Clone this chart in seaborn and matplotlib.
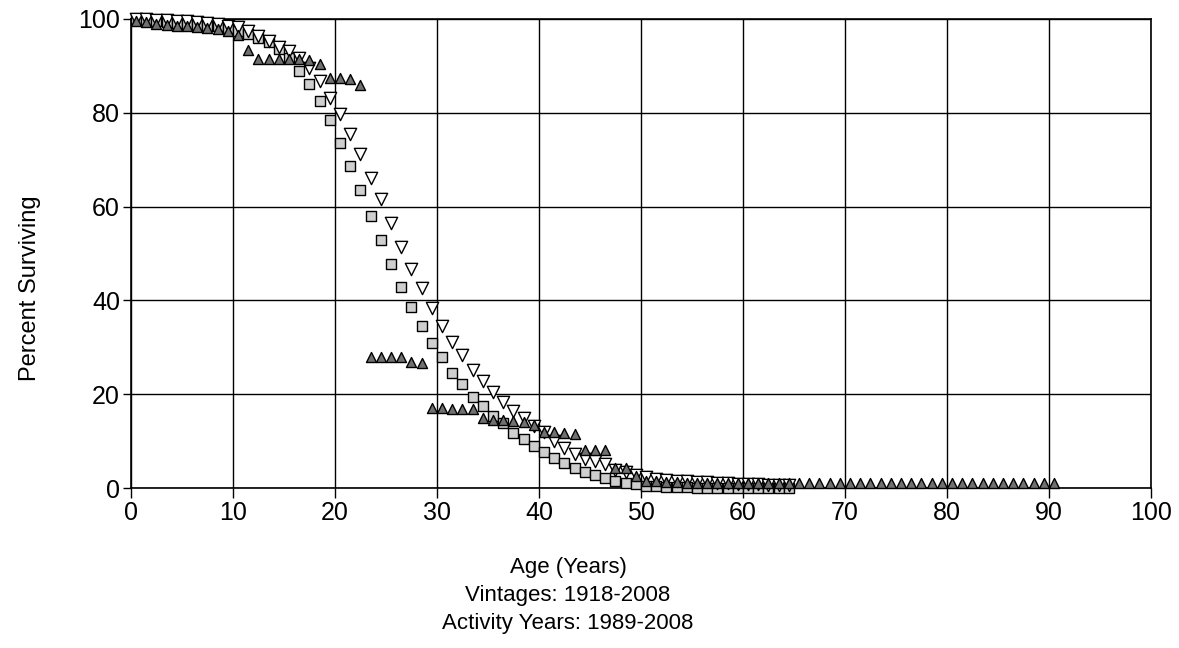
import numpy as np
import pandas as pd
import matplotlib
matplotlib.use("Agg")
import matplotlib.pyplot as plt
import seaborn as sns

# Percent surviving by age (age-interval midpoints), three survival curves
ages_sq = np.arange(0, 65) + 0.5
surv_sq = [100.0, 99.8, 99.6, 99.4, 99.2, 99.0, 98.8, 98.6, 98.4, 98.0,
           97.4, 96.8, 96.0, 95.0, 93.5, 91.7, 89.0, 86.2, 82.6, 78.5,
           73.6, 68.7, 63.6, 58.0, 52.8, 47.7, 42.8, 38.5, 34.5, 31.0,
           27.9, 24.5, 22.1, 19.4, 17.4, 15.3, 13.8, 11.7, 10.4, 8.9,
           7.7, 6.5, 5.3, 4.3, 3.4, 2.8, 2.1, 1.5, 1.1, 0.8,
           0.5, 0.4, 0.3, 0.2, 0.2, 0.1, 0.1, 0.1, 0.0, 0.0,
           0.0, 0.0, 0.0, 0.0, 0.0]

ages_dn = np.arange(0, 65) + 0.5
surv_dn = [100.0, 99.9, 99.8, 99.7, 99.6, 99.5, 99.4, 99.2, 99.0, 98.6,
           98.2, 97.4, 96.4, 95.3, 94.0, 93.2, 91.7, 89.6, 86.8, 83.2,
           79.8, 75.5, 71.3, 66.2, 61.6, 56.4, 51.3, 46.8, 42.6, 38.3,
           34.5, 31.1, 28.3, 25.1, 22.8, 20.5, 18.3, 16.5, 14.9, 13.3,
           12.0, 10.0, 8.6, 7.3, 6.2, 5.8, 5.1, 3.9, 3.5, 2.8,
           2.4, 2.0, 1.8, 1.6, 1.5, 1.3, 1.2, 1.1, 1.0, 0.9,
           0.8, 0.8, 0.7, 0.7, 0.6]

ages_up = np.arange(0, 91) + 0.5
surv_up = [99.5, 99.3, 99.0, 98.8, 98.6, 98.4, 98.2, 98.0, 97.8, 97.4,
           96.5, 93.3, 91.5, 91.5, 91.5, 91.5, 91.5, 91.2, 90.5, 87.5,
           87.5, 87.2, 86.0, 28.0, 28.0, 28.0, 28.0, 26.8, 26.6, 17.1,
           17.1, 16.9, 16.8, 16.8, 15.0, 14.6, 14.5, 14.3, 14.0, 13.4,
           12.0, 11.9, 11.8, 11.5, 8.0, 8.0, 8.0, 4.3, 4.2, 2.5,
           1.6, 1.4, 1.3, 1.2, 1.1, 1.0, 1.0, 1.0, 1.0, 1.0,
           1.0, 1.0, 1.0, 1.0, 1.0, 1.0, 1.0, 1.0, 1.0, 1.0,
           1.0, 1.0, 1.0, 1.0, 1.0, 1.0, 1.0, 1.0, 1.0, 1.0,
           1.0, 1.0, 1.0, 1.0, 1.0, 1.0, 1.0, 1.0, 1.0, 1.0,
           1.0]

x_ticks = list(range(0, 101, 10))
y_ticks = list(range(0, 101, 20))
x_title = "Age (Years)"
sub_1 = "Vintages: 1918-2008"
sub_2 = "Activity Years: 1989-2008"
y_title = "Percent Surviving"

sns.set_style("white")
plt.rcParams["font.family"] = ["Liberation Sans", "DejaVu Sans"]
plt.rcParams["text.color"] = "black"

fig = plt.figure(figsize=(11.79, 6.48), dpi=100)
ax = fig.add_axes([0.1111, 0.2469, 0.8651, 0.7238])

df_sq = pd.DataFrame({"age": ages_sq, "pct": surv_sq})
df_dn = pd.DataFrame({"age": ages_dn, "pct": surv_dn})
df_up = pd.DataFrame({"age": ages_up, "pct": surv_up})

sns.scatterplot(data=df_sq, x="age", y="pct", ax=ax, marker="s", s=62,
                color="#cfcfcf", edgecolor="black", linewidth=1.0,
                clip_on=False, zorder=3)
sns.scatterplot(data=df_dn, x="age", y="pct", ax=ax, marker="v", s=78,
                color="white", edgecolor="black", linewidth=1.0,
                clip_on=False, zorder=4)
sns.scatterplot(data=df_up, x="age", y="pct", ax=ax, marker="^", s=52,
                color="#707070", edgecolor="black", linewidth=1.0,
                clip_on=False, zorder=5)

ax.set_xlim(0, 100)
ax.set_ylim(0, 100)
ax.set_xticks(x_ticks)
ax.set_yticks(y_ticks)
ax.set_xticklabels([str(t) for t in x_ticks])
ax.set_yticklabels([str(t) for t in y_ticks])
ax.grid(True, color="black", linewidth=1.0)
ax.set_axisbelow(True)
for sp in ax.spines.values():
    sp.set_color("black")
    sp.set_linewidth(1.2)
ax.tick_params(axis="x", direction="out", length=7, width=1.0,
               labelsize=18, pad=2, colors="black")
ax.tick_params(axis="y", direction="out", length=6, width=1.0,
               labelsize=18, pad=2, colors="black")
ax.tick_params(bottom=True, left=True)
ax.set_xlabel("")
ax.set_ylabel("")

fig.text(568 / 1179, 1 - 568 / 648, x_title, ha="center", va="center", fontsize=16)
fig.text(568 / 1179, 1 - 596 / 648, sub_1, ha="center", va="center", fontsize=16)
fig.text(568 / 1179, 1 - 623 / 648, sub_2, ha="center", va="center", fontsize=16)
fig.text(30 / 1179, 1 - 288 / 648, y_title, ha="center", va="center",
         rotation=90, fontsize=17)

fig.savefig("out.png", dpi=100, facecolor="white")
